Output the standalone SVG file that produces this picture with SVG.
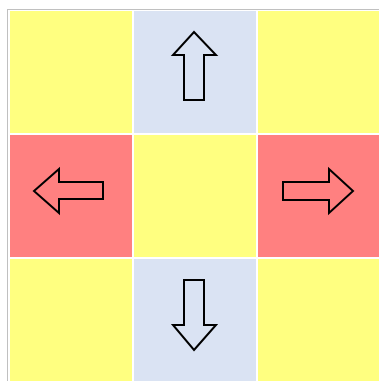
<svg xmlns="http://www.w3.org/2000/svg" width="379" height="381" viewBox="0 0 379 381">
<style>
.cell{stroke:#ffffff;stroke-width:2}
.y{fill:#ffff80}
.b{fill:#dae3f3}
.r{fill:#ff8080}
.arrow{fill:none;stroke:#000000;stroke-width:2;stroke-linejoin:miter}
</style>
<rect x="0" y="0" width="379" height="381" fill="#ffffff"/>
<g id="cell-tl"><rect class="cell y" x="9" y="10" width="124" height="124"/></g>
<g id="cell-tm"><rect class="cell b" x="133" y="10" width="124" height="124"/>
<polygon class="arrow" points="194,32 216,55 204,55 204,100 184,100 184,55 173,55"/></g>
<g id="cell-tr"><rect class="cell y" x="257" y="10" width="124" height="124"/></g>
<g id="cell-ml"><rect class="cell r" x="9" y="134" width="124" height="124"/>
<polygon class="arrow" points="34,191 59,169 59,182 103,182 103,199 59,199 59,213"/></g>
<g id="cell-mm"><rect class="cell y" x="133" y="134" width="124" height="124"/></g>
<g id="cell-mr"><rect class="cell r" x="257" y="134" width="124" height="124"/>
<polygon class="arrow" points="353,191 329,169 329,182 283,182 283,200 329,200 329,213"/></g>
<g id="cell-bl"><rect class="cell y" x="9" y="258" width="124" height="124"/></g>
<g id="cell-bm"><rect class="cell b" x="133" y="258" width="124" height="124"/>
<polygon class="arrow" points="194,350 216,325 204,325 204,280 184,280 184,325 173,325"/></g>
<g id="cell-br"><rect class="cell y" x="257" y="258" width="124" height="124"/></g>
<rect x="7.5" y="9.5" width="380" height="380" fill="none" stroke="#c0c0c0" stroke-width="1"/>
<g id="connectors"></g>
</svg>
